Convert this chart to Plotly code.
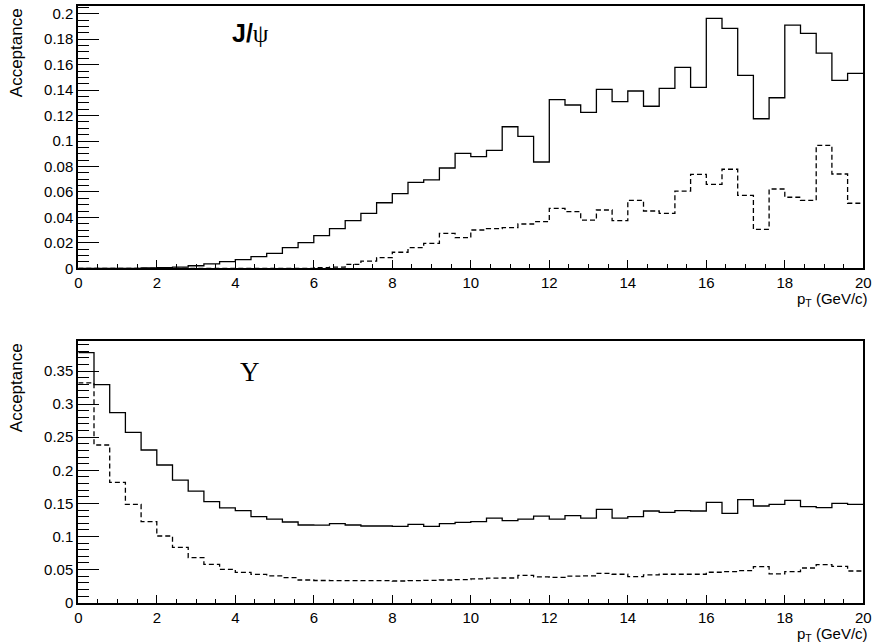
import numpy as np
import plotly.graph_objects as go

# ---------------- data ----------------
bin_width = 0.4
n_bins = 50
pt_edges = [round(i * bin_width, 1) for i in range(n_bins + 1)]

jpsi_solid = [0, 0, 0, 0, 0.0003, 0.0005, 0.001, 0.002, 0.0034, 0.0052,
              0.0068, 0.0092, 0.0118, 0.0162, 0.0201, 0.0256, 0.0311, 0.0374, 0.0432, 0.0515,
              0.0586, 0.0675, 0.0694, 0.0788, 0.0903, 0.0877, 0.0927, 0.1112, 0.1037, 0.0835,
              0.1325, 0.1283, 0.1225, 0.1406, 0.1309, 0.1393, 0.1273, 0.1414, 0.1579, 0.1422,
              0.1964, 0.1885, 0.1516, 0.1175, 0.1340, 0.1911, 0.1846, 0.1691, 0.1477, 0.1532]

jpsi_dashed = [0, 0, 0, 0, 0, 0, 0, 0, 0, 0,
               0, 0, 0, 0, 0, 0.0005, 0.001, 0.0031, 0.0057, 0.0084,
               0.0126, 0.0162, 0.0196, 0.0275, 0.0241, 0.0301, 0.0311, 0.0319, 0.0348, 0.0366,
               0.0471, 0.0445, 0.0379, 0.0458, 0.0374, 0.0534, 0.0450, 0.0432, 0.0607, 0.0738,
               0.0660, 0.0778, 0.0573, 0.0306, 0.0623, 0.0558, 0.0534, 0.0966, 0.0741, 0.0511]

ups_solid = [0.3777, 0.3293, 0.2870, 0.2574, 0.2307, 0.2080, 0.1853, 0.1687, 0.1526, 0.1431,
             0.1390, 0.1299, 0.1264, 0.1219, 0.1174, 0.1172, 0.1194, 0.1174, 0.1159, 0.1159,
             0.1154, 0.1184, 0.1154, 0.1194, 0.1214, 0.1224, 0.1279, 0.1239, 0.1264, 0.1309,
             0.1264, 0.1314, 0.1279, 0.1410, 0.1279, 0.1299, 0.1385, 0.1365, 0.1390, 0.1385,
             0.1516, 0.1350, 0.1556, 0.1461, 0.1486, 0.1546, 0.1451, 0.1436, 0.1501, 0.1486]

ups_dashed = [0.332, 0.2382, 0.1818, 0.1486, 0.1224, 0.1008, 0.0836, 0.0680, 0.0579, 0.0504,
              0.0459, 0.0429, 0.0404, 0.0378, 0.0343, 0.0335, 0.0333, 0.0333, 0.0332, 0.0332,
              0.0328, 0.0333, 0.0338, 0.0343, 0.0350, 0.0360, 0.0370, 0.0373, 0.0414, 0.0389,
              0.0383, 0.0400, 0.0405, 0.0444, 0.0430, 0.0394, 0.0420, 0.0430, 0.0430, 0.0430,
              0.0460, 0.0470, 0.0485, 0.0544, 0.0434, 0.0470, 0.0524, 0.0574, 0.0550, 0.0479]

x_title = "p<sub>T</sub> (GeV/c)"
y_title = "Acceptance"

# ---------------- figure ----------------
W, H = 872, 643
fig = go.Figure()


def hist_trace(vals, dash, xa, ya):
    return go.Scatter(
        x=pt_edges, y=list(vals) + [vals[-1]],
        mode="lines", line=dict(shape="hv", color="black", width=1.3, dash=dash),
        xaxis=xa, yaxis=ya, showlegend=False, hoverinfo="skip")


fig.add_trace(hist_trace(jpsi_solid, "solid", "x", "y"))
fig.add_trace(hist_trace(jpsi_dashed, "5px,3px", "x", "y"))
fig.add_trace(hist_trace(ups_solid, "solid", "x2", "y2"))
fig.add_trace(hist_trace(ups_dashed, "5px,3px", "x2", "y2"))

x0, x1 = 78.3 / W, 863.3 / W
top_dom = [1 - 268.3 / H, 1 - 5.7 / H]
bot_dom = [1 - 602.7 / H, 1 - 340.7 / H]

tickfont = dict(family="Liberation Sans, Arial, Helvetica", size=15, color="black")

xaxis_common = dict(
    range=[0, 20], domain=[x0, x1], showgrid=False, zeroline=False, automargin=False,
    showline=True, linecolor="black", linewidth=2, mirror=True,
    ticks="inside", ticklen=8, tickwidth=1, tickcolor="black", dtick=2, tick0=0,
    minor=dict(ticks="inside", ticklen=4, dtick=0.5, tick0=0, tickcolor="black", tickwidth=1, showgrid=False),
    tickfont=tickfont, fixedrange=True)

yaxis_common = dict(
    showgrid=False, zeroline=False, showline=True, linecolor="black", linewidth=2, mirror=True,
    ticks="inside", ticklen=21, tickwidth=1, tickcolor="black", tickfont=tickfont,
    fixedrange=True, automargin=False)

fig.update_layout(
    width=W, height=H,
    margin=dict(l=0, r=0, t=0, b=0),
    paper_bgcolor="white", plot_bgcolor="white",
    xaxis=dict(**xaxis_common, anchor="y"),
    xaxis2=dict(**xaxis_common, anchor="y2"),
    yaxis=dict(**yaxis_common, domain=top_dom, range=[0, 0.2063], dtick=0.02, tick0=0,
               minor=dict(ticks="inside", ticklen=11, dtick=0.005, tick0=0, tickcolor="black", showgrid=False),
               anchor="x"),
    yaxis2=dict(**yaxis_common, domain=bot_dom, range=[0, 0.3958], dtick=0.05, tick0=0,
                minor=dict(ticks="inside", ticklen=11, dtick=0.01, tick0=0, tickcolor="black", showgrid=False),
                anchor="x2"),
)

annfont = dict(family="Liberation Sans, Arial, Helvetica", size=17, color="black")
anns = []
for ytop, ybot in [(5.7, 268.3), (340.7, 602.7)]:
    # y axis title (rotated, aligned to top of axis)
    anns.append(dict(text=y_title, x=16 / W, y=1 - (ytop + 1) / H, xref="paper", yref="paper",
                     xanchor="center", yanchor="top", textangle=-90, showarrow=False, font=annfont))
    # x axis title (right aligned)
    anns.append(dict(text=x_title, x=870 / W, y=1 - (ybot + 20) / H, xref="paper", yref="paper",
                     xanchor="right", yanchor="top", showarrow=False,
                     font=dict(family="Liberation Sans, Arial, Helvetica", size=15, color="black")))

anns.append(dict(text="<b>J/</b><span style='font-family:Liberation Serif, Times New Roman, serif;'>ψ</span>",
                 x=250 / W, y=1 - 33 / H, xref="paper", yref="paper", xanchor="center", yanchor="middle",
                 showarrow=False, font=dict(family="Liberation Sans, Arial, Helvetica", size=25, color="black")))
anns.append(dict(text="Υ", x=250 / W, y=1 - 372 / H, xref="paper", yref="paper", xanchor="center",
                 yanchor="middle", showarrow=False,
                 font=dict(family="Liberation Serif, Times New Roman, serif", size=27, color="black")))

fig.update_layout(annotations=anns)

fig.write_html("out.html", config={"displayModeBar": False},
               post_script="document.body.style.margin='0px';document.body.style.overflow='hidden';")
